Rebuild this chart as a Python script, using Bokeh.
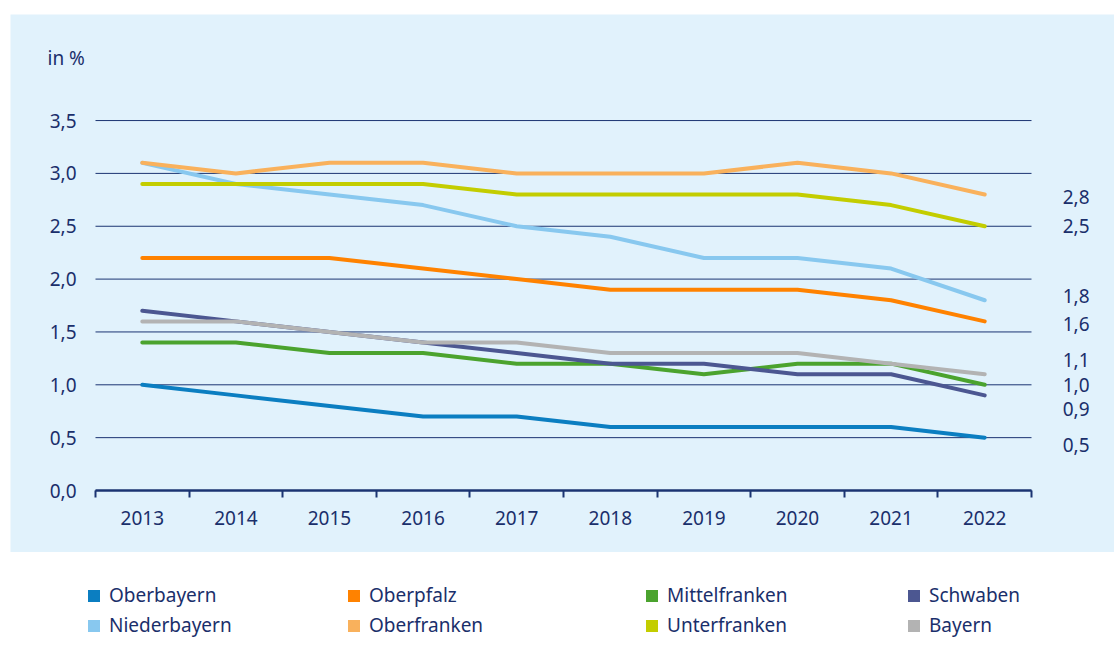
from bokeh.plotting import figure
from bokeh.models import (FixedTicker, CustomJSTickFormatter, Legend,
                          LegendItem, Range1d, Spacer, ColumnDataSource)
from bokeh.layouts import column, row
from bokeh.core.properties import value
from bokeh.embed import file_html
from bokeh.resources import INLINE

# ---------------- data ----------------
years = [2013, 2014, 2015, 2016, 2017, 2018, 2019, 2020, 2021, 2022]

oberbayern    = [1.0, 0.9, 0.8, 0.7, 0.7, 0.6, 0.6, 0.6, 0.6, 0.5]
niederbayern  = [3.1, 2.9, 2.8, 2.7, 2.5, 2.4, 2.2, 2.2, 2.1, 1.8]
oberpfalz     = [2.2, 2.2, 2.2, 2.1, 2.0, 1.9, 1.9, 1.9, 1.8, 1.6]
oberfranken   = [3.1, 3.0, 3.1, 3.1, 3.0, 3.0, 3.0, 3.1, 3.0, 2.8]
mittelfranken = [1.4, 1.4, 1.3, 1.3, 1.2, 1.2, 1.1, 1.2, 1.2, 1.0]
unterfranken  = [2.9, 2.9, 2.9, 2.9, 2.8, 2.8, 2.8, 2.8, 2.7, 2.5]
schwaben      = [1.7, 1.6, 1.5, 1.4, 1.3, 1.2, 1.2, 1.1, 1.1, 0.9]
bayern        = [1.6, 1.6, 1.5, 1.4, 1.4, 1.3, 1.3, 1.3, 1.2, 1.1]

names = ["Oberbayern", "Niederbayern", "Oberpfalz", "Oberfranken",
         "Mittelfranken", "Unterfranken", "Schwaben", "Bayern"]
values = [oberbayern, niederbayern, oberpfalz, oberfranken,
          mittelfranken, unterfranken, schwaben, bayern]

y_ticks = [0.0, 0.5, 1.0, 1.5, 2.0, 2.5, 3.0, 3.5]
unit_label = "in %"

# ---------------- styles ----------------
colors = ["#0b7ec1", "#88c8ef", "#ff8200", "#f9b15c",
          "#4ba32e", "#c3cd00", "#4c5791", "#b3b3b3"]
# vertical nudge (screen px, + = down) for the end-of-line value labels
end_nudge = [7, -4, 3, 2, 0, 0, 14, -14]

FONT = "Noto Sans"
FS = "19px"
TEXT = "#1a2f6b"
NAVY = "#1b3472"
PANEL = "#e1f2fc"

# layout geometry (pixels)
PANEL_W, PANEL_H = 1104, 538
PX_PER_YEAR = 93.6
PLOT_LEFT_PX = 85      # from panel left to first category boundary
PLOT_BOTTOM_PX = 62    # from zero line to panel bottom
PX_PER_UNIT = 105.7    # vertical scale

x0 = years[0] - 0.5
x_start = x0 - PLOT_LEFT_PX / PX_PER_YEAR
x_end = x_start + PANEL_W / PX_PER_YEAR
y_start = -PLOT_BOTTOM_PX / PX_PER_UNIT
y_end = y_start + PANEL_H / PX_PER_UNIT

# ---------------- chart ----------------
p = figure(width=PANEL_W, height=PANEL_H,
           x_range=Range1d(x_start, x_end), y_range=Range1d(y_start, y_end),
           output_backend="svg", toolbar_location=None,
           min_border=0,
           background_fill_color=PANEL, border_fill_color=PANEL,
           outline_line_color=None)

# horizontal grid lines spanning the category area only
p.segment(x0=[years[0] - 0.5] * len(y_ticks), x1=[years[-1] + 0.5] * len(y_ticks),
          y0=y_ticks, y1=y_ticks, line_color=NAVY, line_width=1)

for name, vals, col in zip(names, values, colors):
    p.line(years, vals, line_color=col, line_width=4,
           line_cap="round", line_join="round")

# x axis (floating at zero)
xa = p.xaxis[0]
xa.fixed_location = 0
xa.bounds = (years[0] - 0.5, years[-1] + 0.5)
xa.ticker = FixedTicker(ticks=years,
                        minor_ticks=[y - 0.5 for y in years] + [years[-1] + 0.5])
xa.axis_line_color = NAVY
xa.axis_line_width = 2.5
xa.major_tick_line_color = None
xa.major_tick_out = 0
xa.major_tick_in = 0
xa.minor_tick_line_color = NAVY
xa.minor_tick_line_width = 2
xa.minor_tick_out = 7
xa.minor_tick_in = 0
xa.major_label_standoff = 13
xa.major_label_text_font = FONT
xa.major_label_text_font_size = FS
xa.major_label_text_color = TEXT

# y axis (floating at the first category boundary)
ya = p.yaxis[0]
ya.fixed_location = years[0] - 0.5
ya.ticker = FixedTicker(ticks=y_ticks)
ya.formatter = CustomJSTickFormatter(code="return tick.toFixed(1).replace('.', ',');")
ya.axis_line_color = None
ya.major_tick_line_color = None
ya.minor_tick_line_color = None
ya.major_tick_out = 0
ya.major_tick_in = 0
ya.major_label_standoff = 19
ya.major_label_text_font = FONT
ya.major_label_text_font_size = FS
ya.major_label_text_color = TEXT

p.xgrid.visible = False
p.ygrid.visible = False

# unit label
p.text(x=[years[0] - 0.5], y=[y_ticks[-1]], text=[unit_label],
       x_offset=-48, y_offset=-63,
       text_font=value(FONT), text_font_size=FS, text_color=TEXT,
       text_align="left", text_baseline="middle")

# end-of-line value labels
end_src = ColumnDataSource(dict(
    x=[years[-1]] * len(values),
    y=[v[-1] for v in values],
    t=[f"{v[-1]:.1f}".replace(".", ",") for v in values],
    dy=end_nudge,
))
p.text(x="x", y="y", text="t", source=end_src, x_offset=78, y_offset="dy",
       text_font=value(FONT), text_font_size=FS, text_color=TEXT,
       text_align="left", text_baseline="middle")

# ---------------- legend figure ----------------
q = figure(width=PANEL_W, height=88, x_range=Range1d(0, 1), y_range=Range1d(0, 1),
           output_backend="svg", toolbar_location=None,
           x_axis_location=None, y_axis_location=None,
           min_border=0, outline_line_color=None,
           background_fill_color="white", border_fill_color="white")
q.xgrid.visible = False
q.ygrid.visible = False

rends = []
for col in colors:
    # legend proxies placed outside the visible range
    r = q.quad(left=[-3], right=[-2], top=[-2], bottom=[-3],
               fill_color=col, line_color=None)
    rends.append(r)

col_x = [76, 336, 634, 896]
for i, cx in enumerate(col_x):
    items = [LegendItem(label=names[2 * i], renderers=[rends[2 * i]]),
             LegendItem(label=names[2 * i + 1], renderers=[rends[2 * i + 1]])]
    lg = Legend(items=items, location=(cx, 2), orientation="vertical",
                padding=0, margin=0, spacing=4,
                glyph_width=15, glyph_height=15, label_height=26,
                label_standoff=8,
                label_text_font=FONT, label_text_font_size=FS,
                label_text_color=TEXT,
                background_fill_alpha=0, border_line_alpha=0)
    q.add_layout(lg)

layout = row(Spacer(width=10, height=10),
             column(Spacer(height=14, width=PANEL_W), p, q))
open("out.html", "w").write(file_html(layout, INLINE))
